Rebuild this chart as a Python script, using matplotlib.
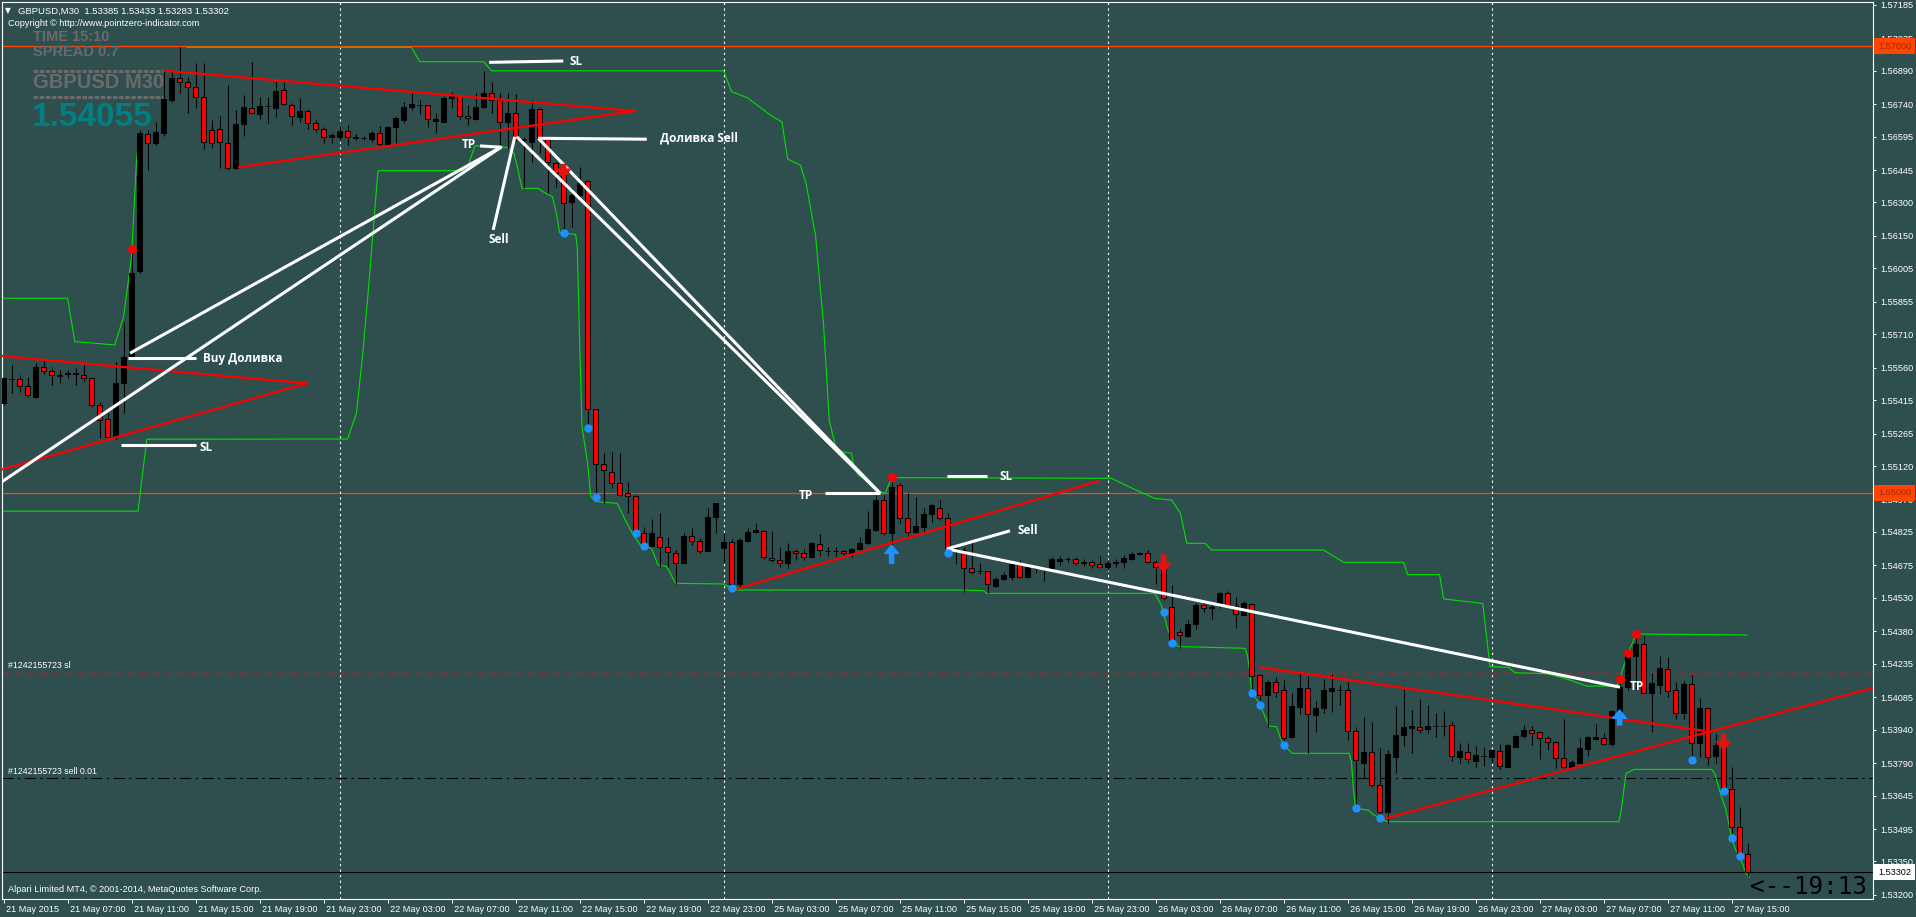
import matplotlib
matplotlib.use("Agg")
import matplotlib.pyplot as plt
from matplotlib import transforms
from matplotlib.lines import Line2D
import numpy as np

plt.rcParams['font.family'] = ['Liberation Sans', 'DejaVu Sans']

W, H = 1916, 917
BG = "#2F4F4F"

# ---- GBPUSD M30 candles, 21 May 03:00 .. 27 May 16:00 ----
opens = [
    1.55404, 1.55508, 1.55508, 1.55476, 1.55430, 1.55562, 1.55547, 1.55526, 1.55534, 1.55535,
    1.55528, 1.55513, 1.55393, 1.55329, 1.55252, 1.55490, 1.55607, 1.55995, 1.56606, 1.56565,
    1.56612, 1.56759, 1.56856, 1.56838, 1.56815, 1.56771, 1.56624, 1.56627, 1.56568, 1.56453,
    1.56650, 1.56724, 1.56695, 1.56732, 1.56724, 1.56803, 1.56736, 1.56684, 1.56711, 1.56654,
    1.56627, 1.56591, 1.56594, 1.56620, 1.56590, 1.56589, 1.56584, 1.56609, 1.56562, 1.56636,
    1.56669, 1.56726, 1.56738, 1.56735, 1.56666, 1.56661, 1.56766, 1.56776, 1.56687, 1.56675,
    1.56726, 1.56788, 1.56758, 1.56661, 1.56699, 1.56584, 1.56572, 1.56717, 1.56582, 1.56478,
    1.56427, 1.56303, 1.56333, 1.56397, 1.55374, 1.55128, 1.55095, 1.55043, 1.54998, 1.54986,
    1.54822, 1.54762, 1.54804, 1.54756, 1.54729, 1.54687, 1.54808, 1.54786, 1.54741, 1.54890,
    1.54752, 1.54781, 1.54592, 1.54786, 1.54823, 1.54831, 1.54708, 1.54699, 1.54687, 1.54740,
    1.54729, 1.54714, 1.54769, 1.54741, 1.54740, 1.54740, 1.54729, 1.54747, 1.54774, 1.54834,
    1.54968, 1.54822, 1.55034, 1.54886, 1.54826, 1.54849, 1.54905, 1.54931, 1.54886, 1.54752,
    1.54745, 1.54662, 1.54649, 1.54650, 1.54585, 1.54613, 1.54625, 1.54682, 1.54622, 1.54662,
    1.54658, 1.54662, 1.54696, 1.54704, 1.54702, 1.54688, 1.54689, 1.54680, 1.54667, 1.54685,
    1.54692, 1.54704, 1.54726, 1.54732, 1.54690, 1.54673, 1.54488, 1.54377, 1.54359, 1.54411,
    1.54498, 1.54486, 1.54505, 1.54553, 1.54494, 1.54453, 1.54502, 1.54183, 1.54095, 1.54152,
    1.54117, 1.53905, 1.54043, 1.54125, 1.54005, 1.54038, 1.54114, 1.54118, 1.54117, 1.53934,
    1.53789, 1.53841, 1.53692, 1.53570, 1.53819, 1.53916, 1.53949, 1.53950, 1.53941, 1.53957,
    1.53958, 1.53963, 1.53819, 1.53841, 1.53801, 1.53824, 1.53819, 1.53846, 1.53774, 1.53864,
    1.53911, 1.53938, 1.53928, 1.53901, 1.53886, 1.53811, 1.53767, 1.53792, 1.53855, 1.53900,
    1.53901, 1.53876, 1.54020, 1.54129, 1.54269, 1.54323, 1.54105, 1.54140, 1.54210, 1.54117,
    1.54016, 1.54144, 1.53879, 1.54036, 1.53822, 1.53871, 1.53673, 1.53503, 1.53385,
]
highs = [
    1.55520, 1.55572, 1.55528, 1.55520, 1.55580, 1.55598, 1.55565, 1.55550, 1.55550, 1.55558,
    1.55572, 1.55520, 1.55408, 1.55356, 1.55587, 1.55766, 1.56072, 1.56624, 1.56624, 1.56662,
    1.56893, 1.56893, 1.56997, 1.56863, 1.56926, 1.56923, 1.56669, 1.56687, 1.56826, 1.56714,
    1.56781, 1.56930, 1.56774, 1.56774, 1.56848, 1.56841, 1.56744, 1.56766, 1.56717, 1.56669,
    1.56639, 1.56609, 1.56647, 1.56647, 1.56606, 1.56597, 1.56621, 1.56642, 1.56642, 1.56687,
    1.56751, 1.56796, 1.56758, 1.56736, 1.56702, 1.56776, 1.56796, 1.56778, 1.56736, 1.56788,
    1.56890, 1.56841, 1.56788, 1.56788, 1.56785, 1.56594, 1.56758, 1.56721, 1.56594, 1.56482,
    1.56438, 1.56363, 1.56460, 1.56400, 1.55375, 1.55180, 1.55184, 1.55177, 1.55050, 1.54990,
    1.54846, 1.54881, 1.54908, 1.54801, 1.54744, 1.54822, 1.54841, 1.54796, 1.54931, 1.54954,
    1.54819, 1.54792, 1.54796, 1.54841, 1.54863, 1.54834, 1.54829, 1.54759, 1.54774, 1.54747,
    1.54747, 1.54781, 1.54814, 1.54759, 1.54759, 1.54744, 1.54752, 1.54801, 1.54920, 1.54990,
    1.54990, 1.55050, 1.55042, 1.54998, 1.54980, 1.54931, 1.54950, 1.54968, 1.54908, 1.54765,
    1.54759, 1.54774, 1.54685, 1.54652, 1.54622, 1.54647, 1.54685, 1.54699, 1.54677, 1.54673,
    1.54670, 1.54714, 1.54717, 1.54711, 1.54711, 1.54704, 1.54699, 1.54717, 1.54699, 1.54702,
    1.54722, 1.54737, 1.54737, 1.54744, 1.54699, 1.54692, 1.54587, 1.54389, 1.54431, 1.54508,
    1.54520, 1.54513, 1.54558, 1.54562, 1.54535, 1.54516, 1.54505, 1.54189, 1.54162, 1.54177,
    1.54162, 1.54102, 1.54192, 1.54180, 1.54069, 1.54166, 1.54189, 1.54139, 1.54154, 1.53953,
    1.53998, 1.53975, 1.53856, 1.53849, 1.54046, 1.54135, 1.54028, 1.54075, 1.54050, 1.54013,
    1.54023, 1.53978, 1.53881, 1.53881, 1.53866, 1.53864, 1.53850, 1.53875, 1.53875, 1.53916,
    1.53960, 1.53956, 1.53935, 1.53911, 1.53887, 1.53986, 1.53804, 1.53901, 1.53911, 1.53965,
    1.53924, 1.54028, 1.54165, 1.54289, 1.54368, 1.54359, 1.54195, 1.54269, 1.54264, 1.54155,
    1.54159, 1.54185, 1.54080, 1.54040, 1.53920, 1.53872, 1.53771, 1.53595, 1.53433,
]
lows = [
    1.55393, 1.55446, 1.55453, 1.55430, 1.55423, 1.55532, 1.55483, 1.55490, 1.55513, 1.55483,
    1.55498, 1.55386, 1.55244, 1.55244, 1.55240, 1.55356, 1.55602, 1.55986, 1.56445, 1.56557,
    1.56598, 1.56751, 1.56789, 1.56699, 1.56721, 1.56538, 1.56542, 1.56453, 1.56445, 1.56450,
    1.56598, 1.56696, 1.56672, 1.56654, 1.56684, 1.56736, 1.56647, 1.56662, 1.56627, 1.56617,
    1.56565, 1.56567, 1.56579, 1.56557, 1.56579, 1.56579, 1.56572, 1.56553, 1.56557, 1.56564,
    1.56654, 1.56714, 1.56696, 1.56636, 1.56612, 1.56660, 1.56721, 1.56672, 1.56647, 1.56669,
    1.56724, 1.56699, 1.56542, 1.56538, 1.56579, 1.56363, 1.56482, 1.56523, 1.56341, 1.56370,
    1.56165, 1.56192, 1.56326, 1.55289, 1.54968, 1.54953, 1.55020, 1.54986, 1.54908, 1.54819,
    1.54762, 1.54759, 1.54669, 1.54669, 1.54592, 1.54685, 1.54766, 1.54729, 1.54739, 1.54822,
    1.54692, 1.54565, 1.54580, 1.54781, 1.54822, 1.54702, 1.54692, 1.54669, 1.54662, 1.54699,
    1.54699, 1.54711, 1.54717, 1.54717, 1.54717, 1.54711, 1.54711, 1.54744, 1.54771, 1.54831,
    1.54811, 1.54744, 1.54863, 1.54804, 1.54822, 1.54819, 1.54871, 1.54878, 1.54729, 1.54680,
    1.54558, 1.54637, 1.54637, 1.54550, 1.54580, 1.54610, 1.54610, 1.54617, 1.54620, 1.54643,
    1.54607, 1.54658, 1.54677, 1.54690, 1.54677, 1.54674, 1.54662, 1.54662, 1.54655, 1.54670,
    1.54662, 1.54699, 1.54722, 1.54687, 1.54592, 1.54520, 1.54312, 1.54304, 1.54353, 1.54389,
    1.54468, 1.54434, 1.54483, 1.54488, 1.54394, 1.54452, 1.54110, 1.54073, 1.53953, 1.54088,
    1.53864, 1.53901, 1.54010, 1.53834, 1.53931, 1.54013, 1.54020, 1.54050, 1.53893, 1.53577,
    1.53722, 1.53684, 1.53543, 1.53523, 1.53747, 1.53866, 1.53837, 1.53923, 1.53926, 1.53905,
    1.53913, 1.53799, 1.53792, 1.53789, 1.53771, 1.53778, 1.53796, 1.53762, 1.53773, 1.53861,
    1.53901, 1.53871, 1.53810, 1.53849, 1.53767, 1.53767, 1.53762, 1.53789, 1.53822, 1.53893,
    1.53871, 1.53867, 1.53956, 1.54117, 1.54117, 1.54104, 1.53931, 1.54100, 1.54085, 1.53986,
    1.53986, 1.53819, 1.53819, 1.53782, 1.53792, 1.53662, 1.53479, 1.53359, 1.53283,
]
closes = [
    1.55513, 1.55511, 1.55478, 1.55438, 1.55562, 1.55547, 1.55528, 1.55523, 1.55537, 1.55534,
    1.55513, 1.55393, 1.55326, 1.55252, 1.55490, 1.55607, 1.55986, 1.56612, 1.56565, 1.56617,
    1.56762, 1.56856, 1.56841, 1.56815, 1.56771, 1.56572, 1.56568, 1.56569, 1.56453, 1.56650,
    1.56729, 1.56699, 1.56733, 1.56733, 1.56800, 1.56741, 1.56687, 1.56711, 1.56657, 1.56627,
    1.56592, 1.56600, 1.56621, 1.56591, 1.56591, 1.56590, 1.56612, 1.56562, 1.56636, 1.56676,
    1.56726, 1.56741, 1.56735, 1.56672, 1.56672, 1.56766, 1.56776, 1.56687, 1.56676, 1.56726,
    1.56791, 1.56758, 1.56661, 1.56699, 1.56582, 1.56579, 1.56717, 1.56582, 1.56482, 1.56430,
    1.56299, 1.56333, 1.56385, 1.55374, 1.55129, 1.55102, 1.55046, 1.54990, 1.54986, 1.54822,
    1.54771, 1.54819, 1.54756, 1.54737, 1.54687, 1.54807, 1.54786, 1.54741, 1.54890, 1.54953,
    1.54781, 1.54592, 1.54789, 1.54823, 1.54834, 1.54711, 1.54699, 1.54687, 1.54740, 1.54729,
    1.54714, 1.54774, 1.54744, 1.54740, 1.54741, 1.54729, 1.54747, 1.54774, 1.54837, 1.54968,
    1.54822, 1.55025, 1.54886, 1.54826, 1.54852, 1.54905, 1.54946, 1.54886, 1.54752, 1.54740,
    1.54662, 1.54647, 1.54652, 1.54592, 1.54614, 1.54632, 1.54682, 1.54622, 1.54667, 1.54664,
    1.54660, 1.54702, 1.54704, 1.54702, 1.54687, 1.54689, 1.54679, 1.54667, 1.54685, 1.54692,
    1.54710, 1.54726, 1.54732, 1.54689, 1.54670, 1.54531, 1.54334, 1.54362, 1.54413, 1.54498,
    1.54483, 1.54488, 1.54550, 1.54494, 1.54456, 1.54505, 1.54180, 1.54094, 1.54155, 1.54110,
    1.53901, 1.54046, 1.54125, 1.54008, 1.54035, 1.54117, 1.54125, 1.54117, 1.53934, 1.53804,
    1.53841, 1.53692, 1.53573, 1.53829, 1.53916, 1.53953, 1.53956, 1.53938, 1.53956, 1.53958,
    1.53957, 1.53822, 1.53844, 1.53807, 1.53826, 1.53822, 1.53849, 1.53777, 1.53871, 1.53911,
    1.53938, 1.53926, 1.53901, 1.53886, 1.53811, 1.53771, 1.53793, 1.53856, 1.53908, 1.53905,
    1.53874, 1.54023, 1.54132, 1.54269, 1.54323, 1.54105, 1.54147, 1.54214, 1.54114, 1.54016,
    1.54144, 1.53879, 1.54038, 1.53816, 1.53871, 1.53670, 1.53503, 1.53374, 1.53302,
]

x_labels = ["21 May 2015", "21 May 07:00", "21 May 11:00", "21 May 15:00", "21 May 19:00",
            "21 May 23:00", "22 May 03:00", "22 May 07:00", "22 May 11:00", "22 May 15:00",
            "22 May 19:00", "22 May 23:00", "25 May 03:00", "25 May 07:00", "25 May 11:00",
            "25 May 15:00", "25 May 19:00", "25 May 23:00", "26 May 03:00", "26 May 07:00",
            "26 May 11:00", "26 May 15:00", "26 May 19:00", "26 May 23:00", "27 May 03:00",
            "27 May 07:00", "27 May 11:00", "27 May 15:00"]
y_ticks = [1.57185, 1.57035, 1.56890, 1.56740, 1.56595, 1.56445, 1.56300, 1.56150, 1.56005,
           1.55855, 1.55710, 1.55560, 1.55415, 1.55265, 1.55120, 1.54970, 1.54825, 1.54675,
           1.54530, 1.54380, 1.54235, 1.54085, 1.53940, 1.53790, 1.53645, 1.53495, 1.53350, 1.53200]
day_breaks = [42, 90, 138, 186]

# channel indicator (green)
green_a_x = [-0.5, 8, 8.9, 13.9, 15, 16, 16.6, 17]
green_a_y = [1.55871, 1.55871, 1.55677, 1.55662, 1.55789, 1.56060, 1.56483, 1.56600]
green_b_x = [22.9, 51, 52, 60, 61, 90, 91, 93, 96, 97.3, 98, 99.6, 100.3, 101.5, 102.5, 103.2,
             104, 104.8, 106, 106.2, 106.8, 108.3, 109.5, 110.2, 111, 138.5, 140.5, 143.9, 146,
             147.1, 147.9, 150.2, 151, 165, 167.5, 175, 175.5, 179.5, 180, 184.9, 185.8, 188.1,
             188.9, 191.6, 193.1, 195.8, 197.9, 201.6, 202, 202.7, 203, 203.6, 204, 217.9]
green_b_y = [1.56994, 1.56994, 1.56930, 1.56930, 1.56889, 1.56889, 1.56796, 1.56768, 1.56687,
             1.56660, 1.56494, 1.56467, 1.56387, 1.56150, 1.55750, 1.55326, 1.55207, 1.55184,
             1.55177, 1.55132, 1.55080, 1.55050, 1.55005, 1.54998, 1.55068, 1.55065, 1.55030,
             1.54975, 1.54968, 1.54909, 1.54774, 1.54774, 1.54744, 1.54744, 1.54689, 1.54689,
             1.54634, 1.54634, 1.54525, 1.54505, 1.54222, 1.54219, 1.54195, 1.54192, 1.54189,
             1.54162, 1.54135, 1.54135, 1.54167, 1.54244, 1.54282, 1.54327, 1.54368, 1.54364]
green_c_x = [-0.5, 16.8, 17.9, 43, 44.1, 44.9, 45.7, 46.1, 46.5, 46.8, 57.9, 58.3, 58.9, 62,
             63.2, 63.8, 64.3, 64.8, 66.8, 67.6, 68.6, 69.1, 69.5, 71.5, 71.7, 72, 72.3, 73,
             73.4, 74, 76.7, 77.7, 78.7, 79.6, 81, 81.8, 82.9, 84, 90, 90.9, 91.5, 119.6, 122.5,
             122.9, 143.9, 144.7, 145.6, 146.8, 155.2, 155.5, 155.8, 156, 157, 158.2, 159.1,
             159.7, 160, 161.1, 168.2, 168.5, 168.7, 169, 170.6, 171, 172, 173, 201.9, 202.2,
             202.8, 203.8, 213.5, 213.9, 214.5, 215.3, 216, 216.5, 217, 217.8, 218.2]
green_c_y = [1.54918, 1.54918, 1.55240, 1.55241, 1.55356, 1.55624, 1.55953, 1.56132, 1.56311,
             1.56442, 1.56442, 1.56490, 1.56553, 1.56553, 1.56542, 1.56520, 1.56445, 1.56363,
             1.56363, 1.56344, 1.56326, 1.56251, 1.56165, 1.56157, 1.56102, 1.55684, 1.55296,
             1.55132, 1.54983, 1.54961, 1.54953, 1.54879, 1.54811, 1.54766, 1.54752, 1.54677,
             1.54670, 1.54595, 1.54592, 1.54573, 1.54565, 1.54565, 1.54562, 1.54550, 1.54550,
             1.54498, 1.54379, 1.54312, 1.54304, 1.54267, 1.54192, 1.54106, 1.54055, 1.53956,
             1.53953, 1.53894, 1.53871, 1.53834, 1.53834, 1.53789, 1.53684, 1.53587, 1.53580,
             1.53565, 1.53543, 1.53528, 1.53528, 1.53580, 1.53744, 1.53762, 1.53762, 1.53744,
             1.53667, 1.53580, 1.53456, 1.53401, 1.53374, 1.53297, 1.53280]

# signal dots
blue_dot_bars = [70, 73, 74, 79, 80, 91, 118, 145, 146, 156, 157, 160, 169, 172, 211, 215, 216, 217]
blue_dot_vals = [1.56164, 1.55289, 1.54983, 1.54819, 1.54762, 1.54573, 1.54729, 1.54468, 1.54329,
                 1.54105, 1.54052, 1.53871, 1.53588, 1.53543, 1.53804, 1.53667, 1.53456, 1.53374]
red_dot_bars = [16, 111, 202, 203, 204]
red_dot_vals = [1.56092, 1.55072, 1.54167, 1.54282, 1.54368]
# arrows: bar, tail price, tip price
up_arrows = [(111, 1.54684, 1.54766), (202, 1.53960, 1.54028)]
down_arrows = [(70, 1.56470, 1.56412), (145, 1.54722, 1.54647), (215, 1.53920, 1.53849)]

# trend line objects: (bar0, price0, bar1, price1)
red_lines = [(-0.45, 1.55613, 37.9, 1.55490), (-0.45, 1.55102, 37.9, 1.55490),
             (19.96, 1.56890, 78.9, 1.56709), (29.3, 1.56457, 78.9, 1.56709),
             (91.2, 1.54565, 137.05, 1.55055), (157.05, 1.54219, 212.7, 1.53934),
             (172.05, 1.53536, 233.7, 1.54127)]
white_lines = [(-0.45, 1.55044, 62.26, 1.56549), (15.8, 1.55625, 62.26, 1.56549),
               (59.55, 1.56553, 62.05, 1.56547), (61.2, 1.56177, 63.9, 1.56594),
               (64.14, 1.56594, 109.55, 1.54998), (66.84, 1.56587, 109.55, 1.54998),
               (66.84, 1.56587, 80.4, 1.56583), (60.7, 1.56927, 69.96, 1.56933),
               (15.6, 1.55602, 24.1, 1.55602), (14.7, 1.55214, 24.0, 1.55214),
               (102.7, 1.54998, 109.55, 1.54998), (117.9, 1.55075, 122.9, 1.55075),
               (117.9, 1.54749, 125.8, 1.54830), (117.9, 1.54749, 202.05, 1.54130)]
notes = [(57.3, 1.56557, "TP"), (60.6, 1.56132, "Sell"), (82.0, 1.56588, "Доливка Sell"),
         (70.7, 1.56933, "SL"), (24.9, 1.55602, "Buy Доливка"), (24.5, 1.55201, "SL"),
         (99.4, 1.54990, "TP"), (124.5, 1.55071, "SL"), (126.7, 1.54831, "Sell"),
         (203.3, 1.54135, "TP")]

level_lines = [1.57000, 1.55000]
order_sl = 1.54192
order_entry = 1.53722
bid = 1.53302

# ---------------------------------------------------------------
fig = plt.figure(figsize=(W / 100, H / 100), dpi=100, facecolor=BG)
ax = fig.add_axes([2 / W, 18 / H, 1871 / W, 897 / H], facecolor=BG)
ax.set_xlim(-0.2, 233.675)
ax.set_ylim(1.531819, 1.571971)


def ftext(px, py, s, **kw):
    kw.setdefault("transform", fig.transFigure)
    return ax.text(px / W, 1 - py / H, s, **kw)


# horizontal levels
for lv in level_lines:
    ax.axhline(lv, color="#FF4500", lw=0.9, zorder=1)
ax.axhline(order_sl, color="#FF0000", lw=1.0, ls=(0, (5, 4)), zorder=1)
ax.axhline(order_entry, color="black", lw=0.8, ls=(0, (10, 4, 2, 4)), zorder=1)
ax.axhline(bid, color="black", lw=0.8, zorder=1)
for b in day_breaks:
    ax.axvline(b, color="white", lw=0.8, ls=(0, (2, 3)), zorder=1)

# overlay text behind candles
gray = "#6A6A6A"
ftext(33, 37, "TIME 15:10", color=gray, fontsize=10.5, fontweight="bold", va="center", zorder=1)
ftext(33, 52, "SPREAD 0.7", color=gray, fontsize=10.5, fontweight="bold", va="center", zorder=1)
ftext(33, 83, "GBPUSD M30", color=gray, fontsize=14.5, fontweight="bold", va="center", zorder=1)
for yy in (71, 97):
    ax.add_line(Line2D([33 / W, 163 / W], [1 - yy / H, 1 - yy / H], transform=fig.transFigure,
                       color=gray, lw=2.2, ls=(0, (1.5, 0.5)), zorder=1))
ftext(32, 118, "1.54055", color="#008080", fontsize=24, fontweight="bold", va="center", zorder=1)

# indicator
for gx, gy in ((green_a_x, green_a_y), (green_b_x, green_b_y), (green_c_x, green_c_y)):
    ax.plot(gx, gy, color="#00E000", lw=0.8, zorder=2)

# candles
o, h, l, c = map(np.array, (opens, highs, lows, closes))
xs = np.arange(len(o))
bull = c >= o
ax.vlines(xs, l, h, color="black", lw=0.8, zorder=3)
body_lo = np.minimum(o, c)
body_h = np.maximum(np.abs(c - o), 0.000012)
ax.bar(xs, body_h, bottom=body_lo, width=0.58, color=np.where(bull, "black", "#FF0000"),
       edgecolor="black", lw=0.7, zorder=4)

# objects
for x0, y0, x1, y1 in red_lines:
    ax.plot([x0, x1], [y0, y1], color="#FF0000", lw=1.6, zorder=5, solid_capstyle="butt")
for x0, y0, x1, y1 in white_lines:
    ax.plot([x0, x1], [y0, y1], color="white", lw=2.2, zorder=6, solid_capstyle="butt")
for bx, py, s in notes:
    ax.text(bx, py, s, color="white", fontsize=8.5, fontweight="bold", family=["Open Sans", "DejaVu Sans"],
            ha="left", va="center", zorder=7)

ax.scatter(blue_dot_bars, blue_dot_vals, s=36, color="#1E90FF", zorder=7, linewidths=0)
ax.scatter(red_dot_bars, red_dot_vals, s=40, color="#FF0000", zorder=7, linewidths=0)
for bx, tail, tip in up_arrows:
    ax.annotate("", xy=(bx, tip), xytext=(bx, tail),
                arrowprops=dict(facecolor="#1E90FF", edgecolor="#1E90FF", width=3, headwidth=10,
                                headlength=6, shrink=0), zorder=7)
for bx, tail, tip in down_arrows:
    ax.annotate("", xy=(bx, tip), xytext=(bx, tail),
                arrowprops=dict(facecolor="#E81010", edgecolor="#E81010", width=3, headwidth=10,
                                headlength=6, shrink=0), zorder=7)

# axes styling
for sp in ax.spines.values():
    sp.set_color("white")
    sp.set_linewidth(0.8)
ax.yaxis.tick_right()
ax.set_yticks(y_ticks)
ax.set_yticklabels([f"{v:.5f}" for v in y_ticks])
ax.tick_params(axis="y", colors="white", direction="out", length=2.5, width=0.7, pad=2.5, labelsize=6.6)
ax.set_xticks(range(0, 8 * len(x_labels), 8))
ax.set_xticklabels(x_labels)
ax.tick_params(axis="x", colors="white", direction="out", length=3, width=0.7, pad=1, labelsize=6.6)
shift = transforms.ScaledTranslation(2 / 72, 0, fig.dpi_scale_trans)
for t in ax.get_xticklabels():
    t.set_ha("left")
    t.set_transform(t.get_transform() + shift)

# price boxes on the scale
ytr = ax.get_yaxis_transform()
for lv in level_lines:
    ax.text(1 + 5 / 1871, lv, f"{lv:.5f}", transform=ytr, color="#9E2A00", fontsize=6.6, ha="left",
            va="center", clip_on=False, zorder=8,
            bbox=dict(boxstyle="square,pad=0.4", fc="#FF4500", ec="none"))
ax.text(1 + 5 / 1871, bid, f"{bid:.5f}", transform=ytr, color="black", fontsize=6.6, ha="left",
        va="center", clip_on=False, zorder=8,
        bbox=dict(boxstyle="square,pad=0.4", fc="white", ec="none"))

# header / footer text
ftext(5, 11, "▼", color="white", fontsize=5.5, va="center", family="DejaVu Sans", zorder=9)
ftext(18, 11, "GBPUSD,M30  1.53385 1.53433 1.53283 1.53302", color="white", fontsize=6.8,
      va="center", zorder=9)
ftext(8, 24, "Copyright © http://www.pointzero-indicator.com", color="white", fontsize=6.6,
      va="center", zorder=9)
ftext(8, 666, "#1242155723 sl", color="white", fontsize=6.3, va="center", zorder=9)
ftext(8, 772, "#1242155723 sell 0.01", color="white", fontsize=6.3, va="center", zorder=9)
ftext(8, 890, "Alpari Limited MT4, © 2001-2014, MetaQuotes Software Corp.", color="white",
      fontsize=6.6, va="center", zorder=9)
ftext(1867, 887, "<--19:13", color="black", fontsize=17.5, family="DejaVu Sans Mono",
      ha="right", va="center", zorder=9)

fig.savefig("out.png", dpi=100, facecolor=BG)
